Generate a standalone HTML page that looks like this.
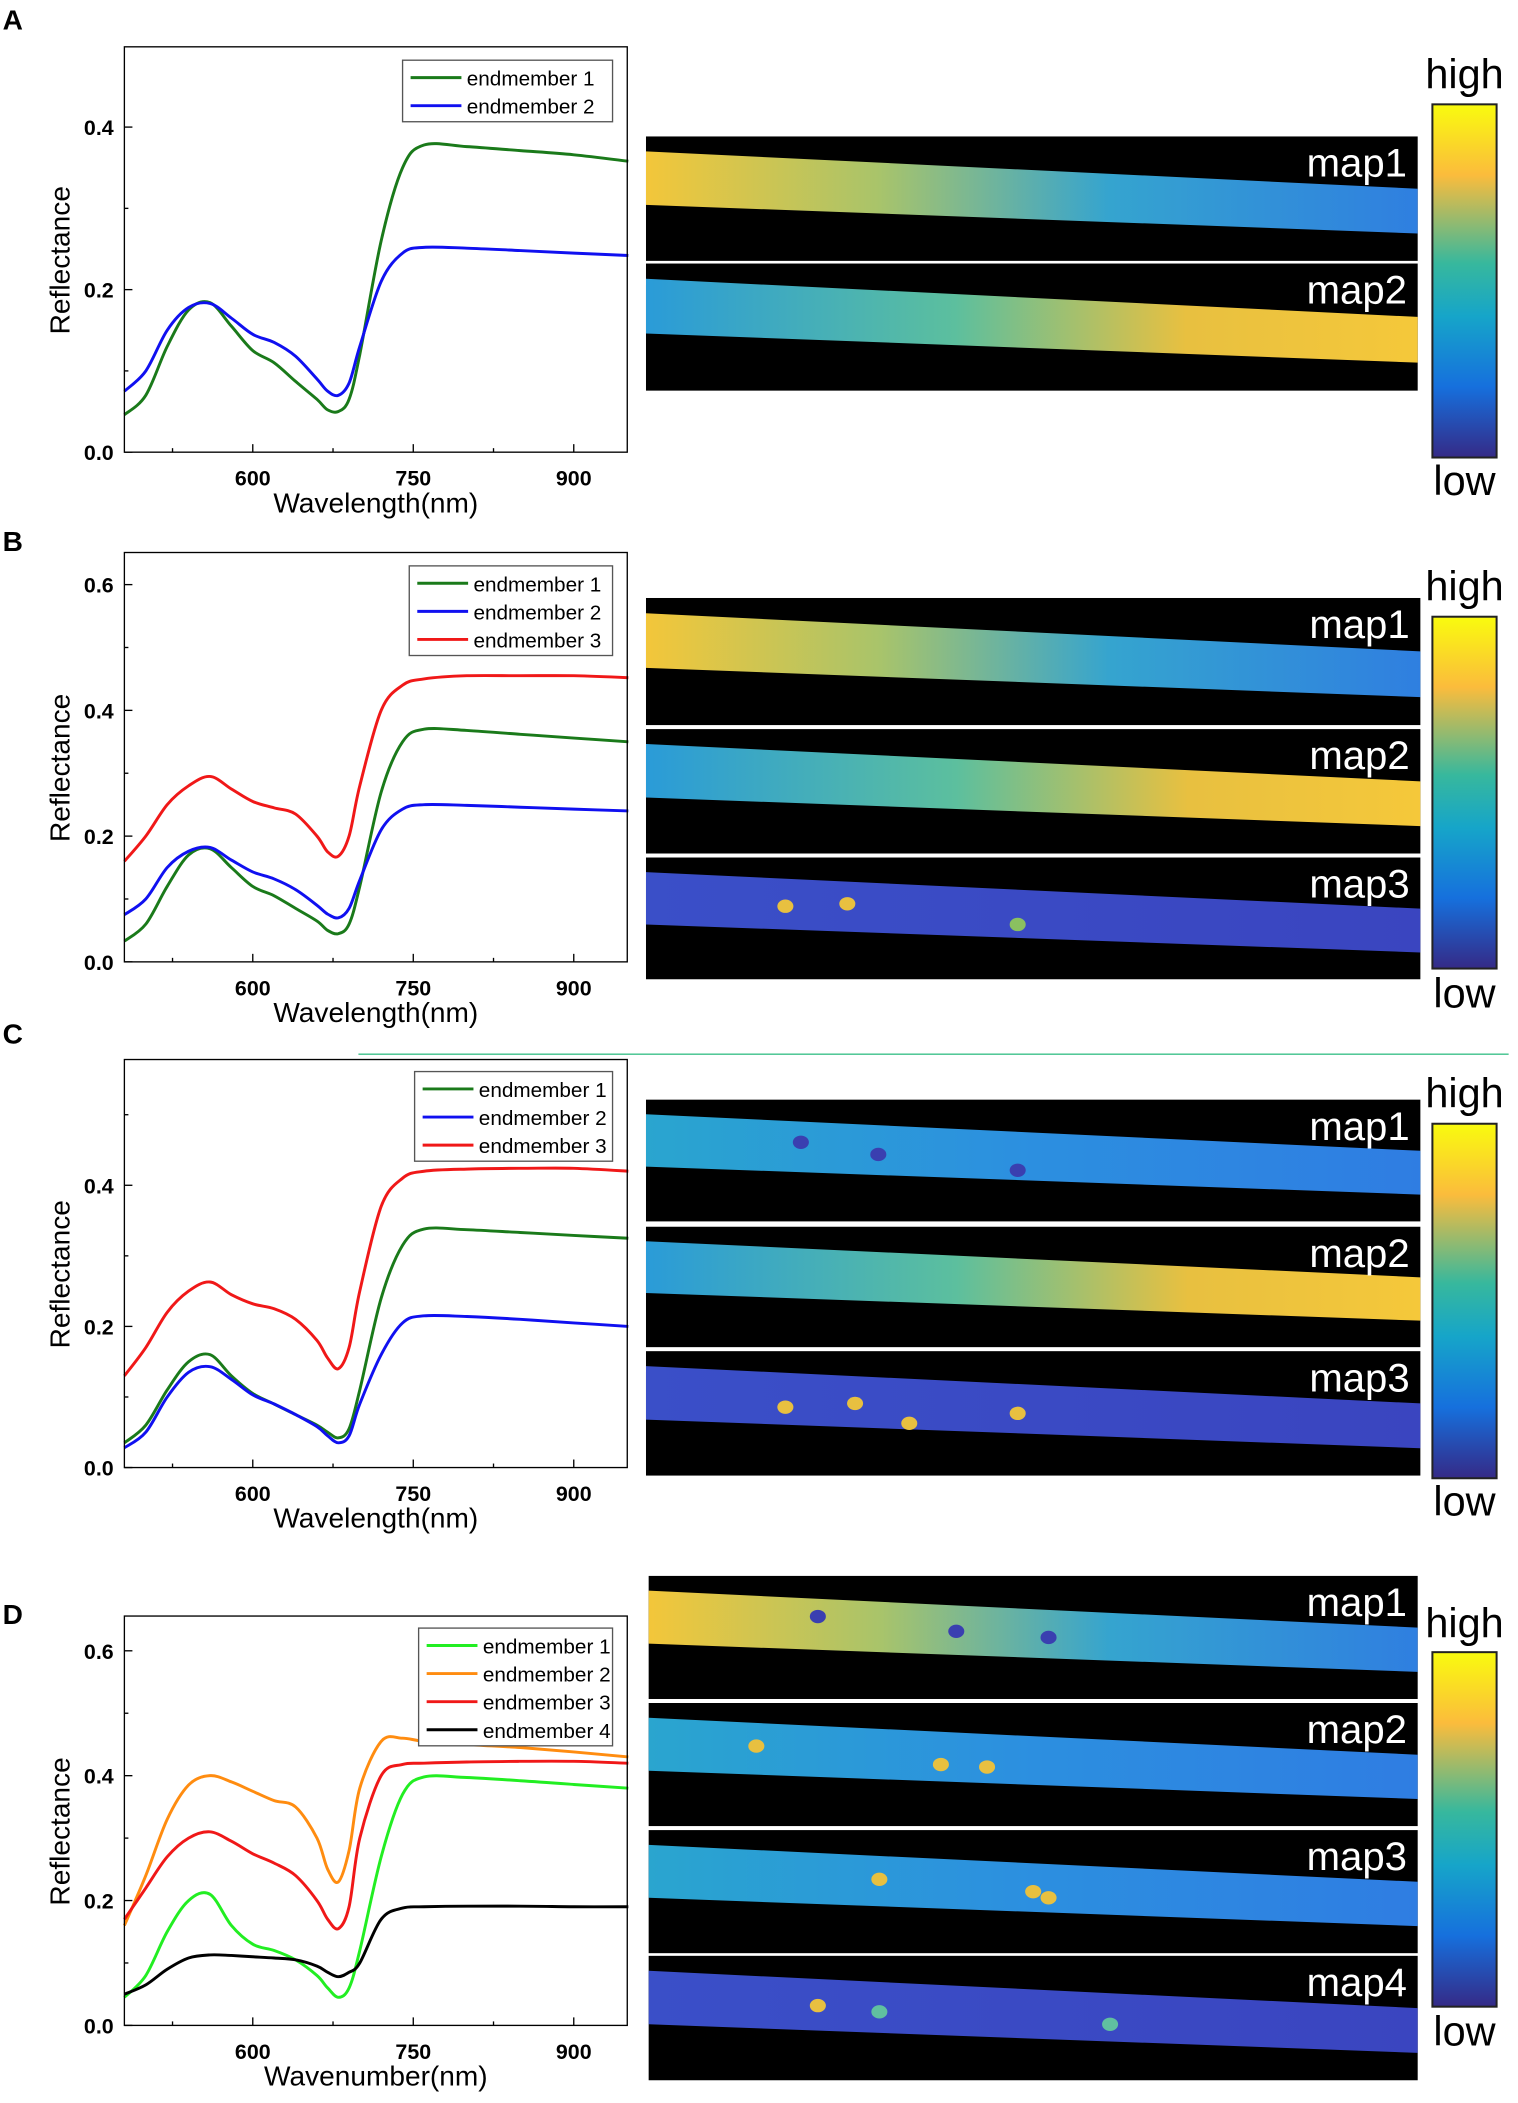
<!DOCTYPE html>
<html><head><meta charset="utf-8">
<style>
html,body{margin:0;padding:0;background:#fff;}
svg{display:block;font-family:"Liberation Sans",Arial,sans-serif;}
</style></head>
<body>
<svg id="fig" width="1518" height="2103" viewBox="0 0 1135 1572" preserveAspectRatio="none">
<defs>
<linearGradient id="cbar" x1="0" y1="0" x2="0" y2="1">
<stop offset="0" stop-color="#f9fb0e"/><stop offset="0.2" stop-color="#fbbc3c"/><stop offset="0.45" stop-color="#37b89d"/><stop offset="0.6" stop-color="#16a5c9"/><stop offset="0.8" stop-color="#1670dd"/><stop offset="1" stop-color="#352a87"/>
</linearGradient>
<linearGradient id="gHiLo" x1="0" y1="0" x2="1" y2="0"><stop offset="0" stop-color="#f3c63a"/><stop offset="0.3" stop-color="#a9c46a"/><stop offset="0.6" stop-color="#35a4cf"/><stop offset="1" stop-color="#2f7fe0"/></linearGradient>
<linearGradient id="gLoHi" x1="0" y1="0" x2="1" y2="0"><stop offset="0" stop-color="#2a9bd8"/><stop offset="0.4" stop-color="#5cbf9e"/><stop offset="0.7" stop-color="#e8c040"/><stop offset="1" stop-color="#f5c83a"/></linearGradient>
<linearGradient id="gLow" x1="0" y1="0" x2="1" y2="0"><stop offset="0" stop-color="#3a4fc8"/><stop offset="1" stop-color="#3a45c0"/></linearGradient>
<linearGradient id="gMid" x1="0" y1="0" x2="1" y2="0"><stop offset="0" stop-color="#2aa5cf"/><stop offset="0.5" stop-color="#2c8fe0"/><stop offset="1" stop-color="#2f7de2"/></linearGradient>
</defs>
<g id="root"></g>
</svg>
<script>
const NS="http://www.w3.org/2000/svg";
const root=document.getElementById('root');
function el(tag,attrs,parent,text){const e=document.createElementNS(NS,tag);for(const k in attrs)e.setAttribute(k,attrs[k]);if(text!==undefined)e.textContent=text;(parent||root).appendChild(e);return e;}

const wl=[480,500,520,540,560,580,600,620,640,660,670,680,690,700,720,740,760,800,850,900,951];
const xTicks=[600,750,900];
const xMinor=[525,675,825];
// Panel A
const aS1=[0.046,0.07,0.13,0.175,0.184,0.155,0.125,0.11,0.087,0.065,0.052,0.05,0.065,0.12,0.26,0.35,0.378,0.376,0.371,0.366,0.358];
const aS2=[0.075,0.1,0.15,0.178,0.183,0.165,0.145,0.135,0.118,0.09,0.075,0.07,0.085,0.13,0.21,0.245,0.252,0.251,0.248,0.245,0.242];
// Panel B
const bS1=[0.033,0.06,0.12,0.17,0.18,0.15,0.12,0.105,0.085,0.065,0.05,0.045,0.06,0.12,0.27,0.35,0.37,0.368,0.362,0.356,0.35];
const bS2=[0.075,0.1,0.15,0.176,0.182,0.162,0.143,0.132,0.115,0.09,0.076,0.07,0.085,0.13,0.21,0.243,0.25,0.249,0.246,0.243,0.24];
const bS3=[0.16,0.2,0.25,0.28,0.295,0.275,0.255,0.245,0.235,0.2,0.175,0.168,0.2,0.28,0.4,0.44,0.45,0.455,0.455,0.455,0.452];
// Panel C
const cS1=[0.035,0.06,0.11,0.15,0.16,0.13,0.105,0.09,0.075,0.06,0.05,0.042,0.055,0.11,0.24,0.315,0.338,0.337,0.333,0.329,0.325];
const cS2=[0.028,0.05,0.1,0.135,0.143,0.125,0.103,0.09,0.075,0.058,0.045,0.035,0.045,0.09,0.16,0.205,0.215,0.214,0.21,0.205,0.2];
const cS3=[0.13,0.17,0.22,0.25,0.263,0.245,0.232,0.225,0.21,0.18,0.155,0.14,0.17,0.25,0.37,0.41,0.42,0.423,0.424,0.424,0.42];
// Panel D
const dS1=[0.045,0.08,0.15,0.2,0.21,0.16,0.13,0.12,0.105,0.08,0.06,0.045,0.06,0.12,0.27,0.37,0.398,0.397,0.392,0.386,0.38];
const dS2=[0.16,0.24,0.33,0.385,0.4,0.39,0.375,0.36,0.35,0.3,0.25,0.23,0.28,0.38,0.455,0.46,0.455,0.45,0.445,0.438,0.43];
const dS3=[0.17,0.22,0.27,0.3,0.31,0.295,0.275,0.26,0.24,0.2,0.17,0.155,0.19,0.3,0.4,0.418,0.42,0.422,0.423,0.423,0.42];
const dS4=[0.05,0.065,0.09,0.108,0.113,0.112,0.11,0.108,0.105,0.095,0.085,0.078,0.085,0.1,0.17,0.188,0.19,0.191,0.191,0.19,0.19];
const yTicksA=[0,0.2,0.4];
const yTicksB=[0,0.2,0.4,0.6];

function smooth(pts){let d=`M${pts[0][0]},${pts[0][1]}`;for(let i=0;i<pts.length-1;i++){const p0=pts[Math.max(0,i-1)],p1=pts[i],p2=pts[i+1],p3=pts[Math.min(pts.length-1,i+2)];const c1=[p1[0]+(p2[0]-p0[0])/6,p1[1]+(p2[1]-p0[1])/6],c2=[p2[0]-(p3[0]-p1[0])/6,p2[1]-(p3[1]-p1[1])/6];d+=` C${c1[0].toFixed(1)},${c1[1].toFixed(1)} ${c2[0].toFixed(1)},${c2[1].toFixed(1)} ${p2[0].toFixed(1)},${p2[1].toFixed(1)}`;}return d;}

function chart(o){
  const g=el('g',{});
  
  
  const L=93,R=469,T=o.top,B=o.bottom;
  const xs=v=>189+(v-600)*0.8;
  const ys=v=>o.y0-v*o.yscale;
  const series=el('g',{},g);
  o.series.forEach((s,i)=>{
    const p=el('path',{d:smooth(wl.map((w,j)=>[xs(w),ys(s.data[j])])),fill:'none',stroke:s.color,'stroke-width':2.2},series);
    
    
  });
  const frame=el('rect',{x:L,y:T,width:R-L,height:B-T,fill:'none',stroke:'#000','stroke-width':1},g);
  
  xTicks.forEach(t=>{el('line',{x1:xs(t),x2:xs(t),y1:B,y2:B-6,stroke:'#000'},g);
    const tx=el('text',{x:xs(t),y:B+25,'text-anchor':'middle','font-size':16,'font-weight':'bold'},g,t);
    });
  xMinor.forEach(t=>el('line',{x1:xs(t),x2:xs(t),y1:B,y2:B-3,stroke:'#000'},g));
  o.yticks.forEach(t=>{el('line',{x1:L,x2:L+6,y1:ys(t),y2:ys(t),stroke:'#000'},g);
    if(ys(t+0.1)>T) el('line',{x1:L,x2:L+3,y1:ys(t+0.1),y2:ys(t+0.1),stroke:'#000'},g);
    const tx=el('text',{x:L-8,y:ys(t)+6,'text-anchor':'end','font-size':16,'font-weight':'bold'},g,t.toFixed(1));
    });
  const xt=el('text',{x:281,y:B+45,'text-anchor':'middle','font-size':21},g,o.xlabel);
  
  const yt=el('text',{x:0,y:0,'text-anchor':'middle','font-size':21,transform:`translate(52,${(T+B)/2+8}) rotate(-90)`},g,'Reflectance');
  
  const lg=el('g',{},g);
  const lh=o.series.length*21+4;
  el('rect',{x:o.legX,y:o.legY,width:458-o.legX,height:lh,fill:'#fff',stroke:'#555'},lg);
  o.series.forEach((s,i)=>{const yy=o.legY+13+i*21;
    el('line',{x1:o.legX+6,x2:o.legX+44,y1:yy,y2:yy,stroke:s.color,'stroke-width':2.2},lg);
    const t=el('text',{x:o.legX+48,y:yy+6,'font-size':15.5},lg,'endmember '+(i+1));
    });
  const lb=el('text',{x:2,y:o.labelY,'font-size':21,'font-weight':'bold'},g,o.label);
  
}
const G='#1a7a1a',BL='#1010f0',RD='#f01818';
chart({name:'chart-a',label:'A',labelY:22,top:35,bottom:338,y0:338,yscale:607.5,yticks:yTicksA,xlabel:'Wavelength(nm)',legX:301,legY:45,series:[{data:aS1,color:G},{data:aS2,color:BL}]});
chart({name:'chart-b',label:'B',labelY:412,top:413,bottom:719,y0:719,yscale:470,yticks:yTicksB,xlabel:'Wavelength(nm)',legX:306,legY:423,series:[{data:bS1,color:G},{data:bS2,color:BL},{data:bS3,color:RD}]});
chart({name:'chart-c',label:'C',labelY:780,top:792,bottom:1097,y0:1097,yscale:527.5,yticks:yTicksA,xlabel:'Wavelength(nm)',legX:310,legY:801,series:[{data:cS1,color:G},{data:cS2,color:BL},{data:cS3,color:RD}]});
chart({name:'chart-d',label:'D',labelY:1214,top:1208,bottom:1514,y0:1514,yscale:466.7,yticks:yTicksB,xlabel:'Wavenumber(nm)',legX:313,legY:1217,series:[{data:dS1,color:'#22ee22'},{data:dS2,color:'#ff8c10'},{data:dS3,color:RD},{data:dS4,color:'#000'}]});

el('line',{x1:268,x2:1128,y1:788,y2:788,stroke:'#3cc08a','stroke-width':1});

function map(x,y,w,h,fill,name,label,spots){
  const g=el('g',{});
  el('rect',{x:x,y:y,width:w,height:h,fill:'#000'},g);
  el('polygon',{points:`${x},${y+h*0.12} ${x+w},${y+h*0.42} ${x+w},${y+h*0.78} ${x},${y+h*0.55}`,fill:fill},g);
  (spots||[]).forEach(s=>el('ellipse',{cx:x+w*s[0],cy:y+h*s[1],rx:6,ry:5,fill:s[2]},g));
  const t=el('text',{x:x+w-8,y:y+30,'text-anchor':'end','font-size':30,fill:'#fff'},g,label);
  
}
function cbar(y1,y2,hy,ly){
  const g=el('g',{});
  el('rect',{x:1071,y:y1,width:48,height:y2-y1,fill:'url(#cbar)',stroke:'#222','stroke-width':1.5},g);
  el('text',{x:1095,y:hy,'text-anchor':'middle','font-size':31},g,'high');
  el('text',{x:1095,y:ly,'text-anchor':'middle','font-size':31},g,'low');
}
map(483,102,577,93,'url(#gHiLo)','map1-a','map1');
map(483,197,577,95,'url(#gLoHi)','map2-a','map2');
cbar(78,342,66,370);
map(483,447,579,95,'url(#gHiLo)','map1-b','map1');
map(483,545,579,93,'url(#gLoHi)','map2-b','map2');
map(483,641,579,91,'url(#gLow)','map3-b','map3',[[0.18,0.4,'#e8c040'],[0.26,0.38,'#e8c040'],[0.48,0.55,'#8ac060']]);
cbar(461,724,449,753);
map(483,822,579,91,'url(#gMid)','map1-c','map1',[[0.2,0.35,'#3a3fb0'],[0.3,0.45,'#3a3fb0'],[0.48,0.58,'#3a3fb0']]);
map(483,917,579,90,'url(#gLoHi)','map2-c','map2');
map(483,1010,579,93,'url(#gLow)','map3-c','map3',[[0.18,0.45,'#e8c040'],[0.27,0.42,'#e8c040'],[0.48,0.5,'#e8c040'],[0.34,0.58,'#e8c040']]);
cbar(840,1105,828,1133);
map(485,1178,575,92,'url(#gHiLo)','map1-d','map1',[[0.22,0.33,'#3a3fb0'],[0.4,0.45,'#3a3fb0'],[0.52,0.5,'#3a3fb0']]);
map(485,1273,575,92,'url(#gMid)','map2-d','map2',[[0.14,0.35,'#e8c040'],[0.38,0.5,'#e8c040'],[0.44,0.52,'#e8c040']]);
map(485,1368,575,92,'url(#gMid)','map3-d','map3',[[0.3,0.4,'#e8c040'],[0.5,0.5,'#e8c040'],[0.52,0.55,'#e8c040']]);
map(485,1462,575,93,'url(#gLow)','map4-d','map4',[[0.22,0.4,'#e8c040'],[0.3,0.45,'#60c0a0'],[0.6,0.55,'#60c0a0']]);
cbar(1235,1500,1224,1529);
</script>
</body></html>
